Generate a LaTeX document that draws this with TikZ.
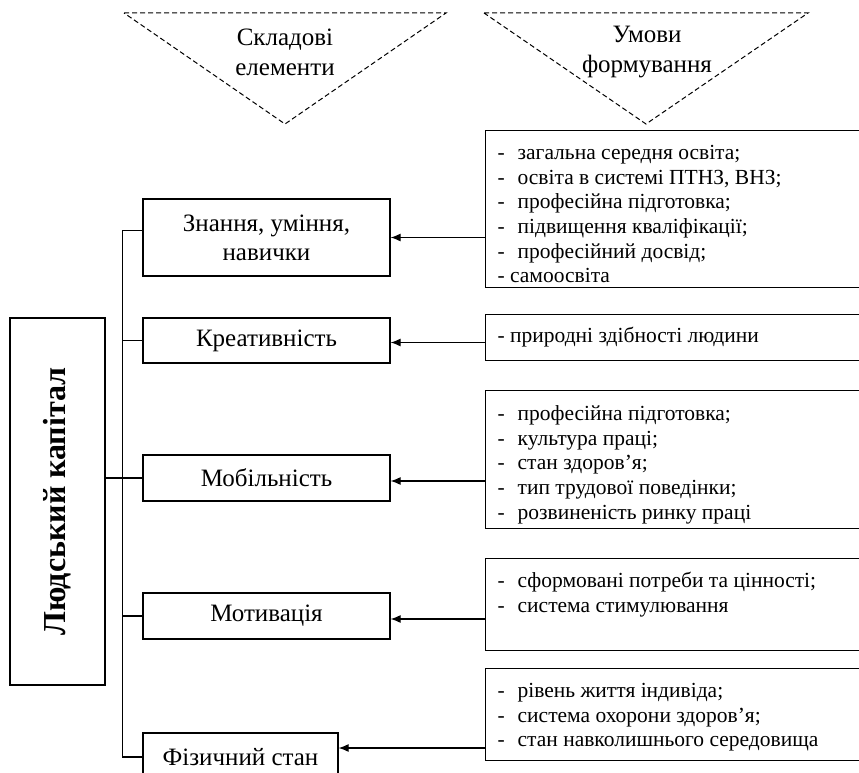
\documentclass[tikz,border=0pt]{standalone}
\usepackage{fontspec}
\setmainfont{Liberation Serif}
\usetikzlibrary{arrows.meta}

\begin{document}
\begin{tikzpicture}[x=1pt,y=-1pt,line width=1.2pt,
  comp/.style={draw,minimum width=247pt,align=center,inner sep=0pt,
    font=\fontsize{25}{29}\selectfont},
  cond/.style={draw,minimum width=390pt,anchor=north west,inner sep=0pt},
  condtext/.style={anchor=north west,align=left,inner sep=0pt,
    font=\fontsize{21.5}{24.6}\selectfont},
  head/.style={align=center,inner sep=0pt,font=\fontsize{25}{30}\selectfont},
  tri/.style={dashed,dash pattern=on 5pt off 3pt,line width=1pt},
  arr/.style={-{Latex[length=10pt,width=8pt]}},
  link/.style={line width=1.2pt}]
\useasboundingbox (0,0) rectangle (859,773);
\clip (0,0) rectangle (859,773);

% column headings in dashed triangles
\coordinate (t1a) at (124,13);
\coordinate (t1b) at (446,13);
\coordinate (t1c) at (285,124);
\coordinate (t2a) at (484,13);
\coordinate (t2b) at (808,13);
\coordinate (t2c) at (646,124);
\draw[tri] (t1a) -- (t1b) -- (t1c) -- cycle;
\draw[tri] (t2a) -- (t2b) -- (t2c) -- cycle;
\node[head] (h1) at (285,52) {Складові\\елементи};
\node[head] (h2) at (647,52) {Умови\\формування};

% main block
\node[draw,minimum width=95pt,minimum height=367pt,inner sep=0pt] (hc) at (57.5,501.5)
  {\rotatebox{90}{\fontsize{32}{36}\selectfont\bfseries Людський капітал}};

% components
\node[comp,minimum height=77pt] (k1) at (266.5,237.5) {Знання, уміння,\\навички};
\node[comp,minimum height=45pt] (k2) at (266.5,340.5) {Креативність};
\node[comp,minimum height=46pt] (k3) at (266.5,478) {Мобільність};
\node[comp,minimum height=46pt] (k4) at (266.5,616) {Мотивація};
\node[comp,minimum width=195pt,minimum height=48pt] (k5) at (240.5,757) {Фізичний стан};

% condition boxes
\node[cond,minimum height=157pt] (r1) at (485,130) {};
\node[cond,minimum height=46pt] (r2) at (485,314) {};
\node[cond,minimum height=138pt] (r3) at (485,390) {};
\node[cond,minimum height=92pt] (r4) at (485,558) {};
\node[cond,minimum height=92pt] (r5) at (485,668) {};

% condition lists (a strut fixes the first baseline 17.2pt below the top)
\node[condtext] (c1) at (497,141.8) {\strut-\hspace{0.6em}загальна середня освіта;\\
  -\hspace{0.6em}освіта в системі ПТНЗ, ВНЗ;\\
  -\hspace{0.6em}професійна підготовка;\\
  -\hspace{0.6em}підвищення кваліфікації;\\
  -\hspace{0.6em}професійний досвід;\\
  - самоосвіта};
\node[condtext] (c2) at (497,324.8) {\strut- природні здібності людини};
\node[condtext] (c3) at (497,402.8) {\strut-\hspace{0.6em}професійна підготовка;\\
  -\hspace{0.6em}культура праці;\\
  -\hspace{0.6em}стан здоров’я;\\
  -\hspace{0.6em}тип трудової поведінки;\\
  -\hspace{0.6em}розвиненість ринку праці};
\node[condtext] (c4) at (497,569.8) {\strut-\hspace{0.6em}сформовані потреби та цінності;\\
  -\hspace{0.6em}система стимулювання};
\node[condtext] (c5) at (497,679.8) {\strut-\hspace{0.6em}рівень життя індивіда;\\
  -\hspace{0.6em}система охорони здоров’я;\\
  -\hspace{0.6em}стан навколишнього середовища};

% tree connecting the main block with the components
\draw[link] ([yshift=7pt]k1.west) -- ++(-20,0) coordinate (ttop);
\draw[link] (k2.west) -- ++(-20,0);
\draw[link] (k3.west) -- ++(-20,0);
\draw[link] (k4.west) -- ++(-20,0);
\draw[link] (k5.west) -- ++(-20,0) coordinate (tbot);
\draw[link] (ttop) -- (tbot);
\draw[link] (hc.east |- k3.west) -- (k3.west);

% arrows from conditions to components
\draw[arr] (r1.west |- k1.east) -- (k1.east);
\draw[arr] ([yshift=-2pt]r2.west |- k2.east) -- ([yshift=-2pt]k2.east);
\draw[arr] ([yshift=-3pt]r3.west |- k3.east) -- ([yshift=-3pt]k3.east);
\draw[arr] ([yshift=-3pt]r4.west |- k4.east) -- ([yshift=-3pt]k4.east);
\draw[arr] ([yshift=9pt]r5.west |- k5.east) -- ([yshift=9pt]k5.east);
\end{tikzpicture}
\end{document}
